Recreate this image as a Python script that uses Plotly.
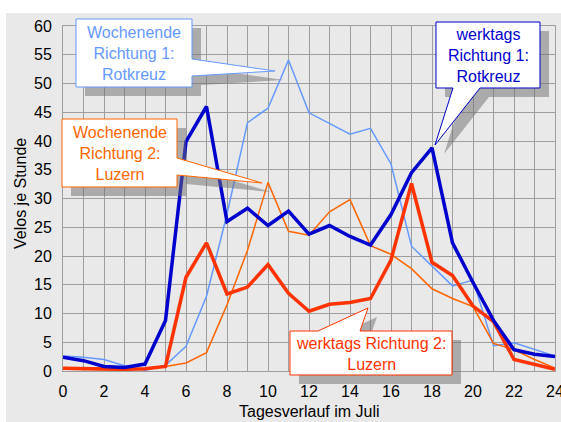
import plotly.graph_objects as go

# ── Data (Velos je Stunde, Tagesverlauf im Juli) ─────────────────────────────
hours = list(range(25))

werktags_r1 = [2.4, 1.8, 0.8, 0.6, 1.2, 8.8, 39.9, 46.0, 26.0, 28.3, 25.3, 27.8, 23.8,
               25.3, 23.4, 21.9, 27.2, 34.5, 38.8, 22.3, 15.4, 8.8, 3.7, 2.9, 2.5]
werktags_r2 = [0.5, 0.4, 0.3, 0.3, 0.4, 0.8, 16.3, 22.3, 13.4, 14.6, 18.5, 13.5, 10.4,
               11.6, 11.9, 12.6, 19.3, 32.6, 18.9, 16.6, 11.3, 8.6, 2.0, 1.1, 0.3]
wochenende_r1 = [2.6, 2.4, 2.0, 0.9, 0.1, 1.0, 4.3, 13.0, 27.3, 43.2, 45.7, 54.1, 44.9,
                 43.1, 41.2, 42.2, 36.0, 21.7, 18.3, 14.8, 15.8, 4.4, 4.9, 3.7, 2.6]
wochenende_r2 = [0.3, 0.2, 0.2, 0.2, 0.3, 0.8, 1.4, 3.2, 11.5, 21.0, 32.8, 24.3, 23.6,
                 27.7, 29.8, 21.8, 20.3, 17.8, 14.3, 12.6, 11.2, 4.8, 3.7, 2.0, 0.5]

# ── Style ────────────────────────────────────────────────────────────────────
FONT = "Liberation Sans, Arial, sans-serif"
BG = "#e9e9e9"
GRID = "#9e9e9e"
C_WE1 = "#6699ff"
C_WE2 = "#ff6600"
C_WT1 = "#0000cc"
C_WT2 = "#ff3300"
SHADOW = "rgba(110,110,110,0.5)"

W, H = 561, 422
L, R, T, B = 63, 6, 26, 51
PW, PH = W - L - R, H - T - B


def paper(px, py):
    """pixel position -> paper fraction"""
    return (px - L) / PW, (H - B - py) / PH


def path_of(points, dx=0, dy=0):
    parts = []
    for i, (px, py) in enumerate(points):
        x, y = paper(px + dx, py + dy)
        parts.append(("M" if i == 0 else "L") + f"{x:.5f},{y:.5f}")
    return " ".join(parts) + " Z"


# callout outlines in pixels: box with speech-bubble tail
callouts = [
    dict(text="Wochenende<br>Richtung 1:<br>Rotkreuz", color=C_WE1, center=(134, 53),
         pts=[(76, 19), (192, 19), (192, 59), (275, 71), (192, 76), (192, 87), (76, 87)]),
    dict(text="Wochenende<br>Richtung 2:<br>Luzern", color=C_WE2, center=(119.5, 153),
         pts=[(62, 119), (177, 119), (177, 158), (262, 183), (177, 175), (177, 187), (62, 187)]),
    dict(text="werktags<br>Richtung 1:<br>Rotkreuz", color=C_WT1, center=(488, 55),
         pts=[(436, 22), (540, 22), (540, 88), (480, 88), (435, 145), (453, 88), (436, 88)]),
    dict(text="werktags Richtung 2:<br>Luzern", color=C_WT2, center=(371, 354),
         pts=[(290, 331), (318, 331), (368, 308), (360, 331), (452, 331), (452, 375), (290, 375)]),
]

fig = go.Figure()

series = [
    ("Wochenende Richtung 1: Rotkreuz", wochenende_r1, C_WE1, 1.5),
    ("Wochenende Richtung 2: Luzern", wochenende_r2, C_WE2, 1.5),
    ("werktags Richtung 2: Luzern", werktags_r2, C_WT2, 3.5),
    ("werktags Richtung 1: Rotkreuz", werktags_r1, C_WT1, 3.5),
]
for name, vals, color, width in series:
    fig.add_trace(go.Scatter(x=hours, y=vals, mode="lines", name=name,
                             line=dict(color=color, width=width)))

shapes = [
    # grey chart area
    dict(type="rect", xref="paper", yref="paper", layer="below",
         x0=paper(6, 0)[0], x1=paper(W, 0)[0], y0=paper(0, H)[1], y1=paper(0, 13)[1],
         fillcolor=BG, line=dict(width=0)),
]
annotations = []
for c in callouts:
    shapes.append(dict(type="path", xref="paper", yref="paper", path=path_of(c["pts"], 9, 9),
                       fillcolor=SHADOW, line=dict(width=0)))
    shapes.append(dict(type="path", xref="paper", yref="paper", path=path_of(c["pts"]),
                       fillcolor="white", line=dict(color=c["color"], width=1)))
    cx, cy = paper(*c["center"])
    annotations.append(dict(text=c["text"], xref="paper", yref="paper", x=cx, y=cy,
                            xanchor="center", yanchor="middle", showarrow=False,
                            font=dict(color=c["color"], size=16, family=FONT)))

annotations.append(dict(text="Tagesverlauf im Juli", xref="paper", yref="paper",
                        x=paper(309, 0)[0], y=paper(0, 411)[1],
                        xanchor="center", yanchor="middle", showarrow=False,
                        font=dict(size=16, color="black", family=FONT)))
annotations.append(dict(text="Velos je Stunde", xref="paper", yref="paper", textangle=-90,
                        x=paper(20, 0)[0], y=paper(0, 194)[1],
                        xanchor="center", yanchor="middle", showarrow=False,
                        font=dict(size=16, color="black", family=FONT)))

fig.update_layout(
    width=W, height=H,
    margin=dict(l=L, r=R, t=T, b=B, autoexpand=False),
    paper_bgcolor="white",
    plot_bgcolor=BG,
    showlegend=False,
    font=dict(family=FONT, size=16, color="black"),
    shapes=shapes,
    annotations=annotations,
    xaxis=dict(range=[0, 24], dtick=2, showgrid=True, gridcolor=GRID, gridwidth=1,
               minor=dict(dtick=1, showgrid=True, gridcolor=GRID, gridwidth=1),
               zeroline=False, showline=True, mirror=True, linecolor=GRID, linewidth=1,
               ticks="", tickfont=dict(size=16), ticklabelstandoff=6,
               ticklabeloverflow="allow", automargin=False),
    yaxis=dict(range=[0, 60], dtick=5, showgrid=True, gridcolor=GRID, gridwidth=1,
               zeroline=False, showline=True, mirror=True, linecolor=GRID, linewidth=1,
               ticks="", tickfont=dict(size=16), ticklabelstandoff=7, automargin=False),
)

# page body has a default margin; drop it so the figure fills the window exactly
fig.write_html("out.html", config={"displayModeBar": False},
               post_script="document.body.style.margin='0';")
